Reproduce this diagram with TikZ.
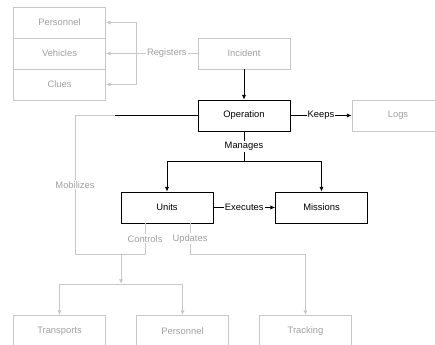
\documentclass[tikz,border=0pt]{standalone}
\usepackage{fontspec}
\setmainfont{Liberation Sans}
\usetikzlibrary{arrows.meta,positioning}
\definecolor{fadedgray}{HTML}{C8C8C8}
\definecolor{fadedtext}{HTML}{A0A0A0}

\begin{document}
\begin{tikzpicture}[x=0.03cm, y=-0.03cm, >={Latex[length=4pt,width=3.6pt]}, line width=0.7pt,
  every node/.style={font=\fontsize{8}{9}\selectfont},
  block/.style={rectangle, draw, minimum width=2.76cm, minimum height=0.93cm, align=center, inner sep=0pt},
  faded/.style={block, draw=fadedgray, text=fadedtext},
  link/.style={draw=fadedgray},
  lbl/.style={fill=white, inner sep=1pt},
  fadedlbl/.style={lbl, text=fadedtext}
]
\useasboundingbox (0,0) rectangle (435,345);

% Registered items (stacked on the left)
\node[faded] (personnel) at (59.5,22.5) {Personnel};
\node[faded] (vehicles) at (59.5,53.5) {Vehicles};
\node[faded] (clues) at (59.5,84.5) {Clues};

% Incident and operation
\node[faded] (incident) at (244,53.5) {Incident};
\node[block] (operation) at (244,115.5) {Operation};
\node[faded] (logs) at (398,115.5) {Logs};

% Units and missions
\node[block] (units) at (167,207.5) {Units};
\node[block] (missions) at (321.5,207.5) {Missions};

% Bottom row
\node[faded] (transports) at (59.5,331) {Transports};
\node[faded] (crew) at (182.5,331) {Personnel};
\node[faded] (tracking) at (305.5,331) {Tracking};

% Junction points
\coordinate (regfork) at (136,53.5);
\coordinate (opcut) at (115,115.5);
\coordinate (mobcorner) at (75,115.5);
\coordinate (mobbottom) at (75,254);
\coordinate (ctrlfoot) at (145,254);
\coordinate (ctrljoin) at (121,254);
\coordinate (split) at (121,284);
\coordinate (mngfork) at (244,161);
\coordinate (updfoot) at (190,254);

% Arrows - Incident registers items
\draw[link] (incident) -- node[fadedlbl]{Registers} (regfork);
\draw[link,->] (regfork) |- (personnel);
\draw[link,->] (regfork) -- (vehicles);
\draw[link,->] (regfork) |- (clues);

% Arrows - Incident to operation, operation keeps logs
\draw[->] (incident) -- (operation);
\draw[->] (operation) -- node[lbl]{Keeps} (logs);

% Arrows - Operation mobilizes
\draw (operation) -- (opcut);
\draw[link] (opcut) -- (mobcorner) -- node[fadedlbl]{Mobilizes} (mobbottom) -- (ctrlfoot);

% Arrows - Operation manages units and missions
\draw (operation) -- node[lbl]{Manages} (mngfork);
\draw[->] (mngfork) -| (units);
\draw[->] (mngfork) -| (missions);

% Arrows - Units execute missions
\draw[->] (units) -- node[lbl]{Executes} (missions);

% Arrows - Units control transports and personnel
\draw[link] (units.south -| ctrlfoot) -- node[fadedlbl]{Controls} (ctrlfoot);
\draw[link,->] (ctrljoin) -- (split);
\draw[link,->] (split) -| (transports);
\draw[link,->] (split) -| (crew);

% Arrows - Units update tracking
\draw[link,->] (units.south -| updfoot) -- node[fadedlbl]{Updates} (updfoot) -| (tracking);

\end{tikzpicture}
\end{document}
